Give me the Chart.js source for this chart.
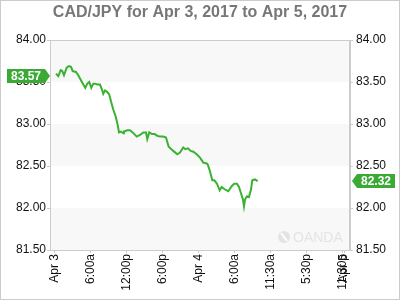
<!DOCTYPE html>
<html>
<head>
<meta charset="utf-8">
<script src="https://cdn.jsdelivr.net/npm/chart.js@4"></script>
<style>
  html, body { margin: 0; padding: 0; background: #fff; }
  #chart { display: block; }
</style>
</head>
<body>
<canvas id="chart" width="400" height="300"></canvas>
<script>
  var TITLE = 'CAD/JPY for Apr 3, 2017 to Apr 5, 2017';

  // hours since Apr 3 00:00 (as laid out on the axis)
  var hours = [0.17, 0.55, 0.95, 1.22, 1.5, 1.95, 2.33, 2.67, 2.95, 3.5, 3.88, 4.33, 4.72, 5.05, 5.38, 5.72,
    6.05, 6.38, 6.72, 7.05, 7.5, 7.83, 8.05, 8.33, 8.72, 9.05, 9.33, 9.72, 10.12, 10.45, 10.67, 11.0, 11.38,
    11.5, 12.05, 12.5, 12.95, 13.62, 14.17, 14.72, 15.17, 15.38, 15.72, 16.17, 16.62, 17.05, 17.5, 18.05,
    18.5, 18.95, 19.72, 20.38, 20.83, 21.38, 21.72, 22.17, 22.62, 23.05, 23.62, 24.17, 24.72, 25.28, 25.45,
    25.78, 26.22, 26.55, 27.0, 27.45, 27.78, 28.33, 28.88, 29.45, 29.88, 30.33, 30.67, 31.0, 31.33, 31.5,
    31.67, 32.0, 32.33, 32.67, 32.88, 33.33, 33.78];
  var rates = [83.60, 83.57, 83.64, 83.63, 83.58, 83.67, 83.69, 83.68, 83.63, 83.62, 83.58, 83.52, 83.47,
    83.43, 83.48, 83.50, 83.43, 83.48, 83.48, 83.47, 83.47, 83.41, 83.36, 83.40, 83.38, 83.35, 83.27, 83.17,
    83.09, 82.99, 82.90, 82.91, 82.89, 82.91, 82.925, 82.925, 82.90, 82.85, 82.87, 82.90, 82.90, 82.82,
    82.90, 82.88, 82.88, 82.86, 82.85, 82.85, 82.84, 82.73, 82.68, 82.64, 82.66, 82.72, 82.70, 82.71, 82.68,
    82.67, 82.64, 82.60, 82.54, 82.53, 82.52, 82.45, 82.33, 82.33, 82.29, 82.21, 82.25, 82.22, 82.20, 82.26,
    82.29, 82.29, 82.25, 82.175, 82.10, 82.02, 82.10, 82.14, 82.13, 82.22, 82.33, 82.34, 82.32];

  var tickHours = [0, 6, 12, 18, 24, 30, 36, 42, 48, 48.2];
  var tickLabels = ['Apr 3', '6:00a', '12:00p', '6:00p', 'Apr 4', '6:00a', '11:30a', '5:30p', '11:30p', 'Apr 5'];

  var openTag = 83.57;
  var closeTag = 82.32;

  var GREEN = '#39b232';
  var TAG_GREEN = '#3aaa35';
  var AXIS_GRAY = '#cccccc';
  var FONT = "'Liberation Sans', Arial, sans-serif";

  function fixWidth(w) {
    return function (scale) { scale.width = w; };
  }

  var decorPlugin = {
    id: 'decor',
    beforeDatasetsDraw: function (chart) {
      var ctx = chart.ctx, area = chart.chartArea, y = chart.scales.y;
      var ticks = y.ticks;
      ctx.save();
      ctx.fillStyle = '#f8f8f8';
      for (var i = ticks.length - 1; i > 0; i -= 2) {
        var top = y.getPixelForValue(ticks[i].value);
        var bot = y.getPixelForValue(ticks[i - 1].value);
        ctx.fillRect(area.left, top, area.right - area.left, bot - top);
      }
      // watermark
      ctx.fillStyle = '#e4e4e4';
      ctx.beginPath();
      ctx.arc(area.right - 66, area.bottom - 13, 6, 0, Math.PI * 2);
      ctx.fill();
      ctx.strokeStyle = '#ffffff';
      ctx.lineWidth = 2;
      ctx.beginPath();
      ctx.moveTo(area.right - 69, area.bottom - 17);
      ctx.lineTo(area.right - 63, area.bottom - 9);
      ctx.stroke();
      ctx.font = '14px ' + FONT;
      ctx.textAlign = 'left';
      ctx.textBaseline = 'middle';
      ctx.fillText('OANDA', area.right - 57, area.bottom - 12);
      ctx.restore();
    },
    afterDraw: function (chart) {
      var ctx = chart.ctx, area = chart.chartArea, y = chart.scales.y;
      ctx.save();
      // plot frame
      ctx.strokeStyle = AXIS_GRAY;
      ctx.lineWidth = 1;
      ctx.strokeRect(area.left + 0.5, area.top + 0.5, area.right - area.left - 1, area.bottom - area.top);
      // outer frame
      ctx.strokeRect(0.5, 0.5, chart.width - 1, chart.height - 1);

      // title
      ctx.fillStyle = '#777777';
      ctx.font = 'bold 16px ' + FONT;
      ctx.textAlign = 'center';
      ctx.textBaseline = 'middle';
      ctx.fillText(TITLE, chart.width / 2, 13);

      // value tags
      ctx.font = 'bold 12px ' + FONT;
      ctx.fillStyle = TAG_GREEN;
      var yo = Math.round(y.getPixelForValue(openTag));
      ctx.beginPath();
      ctx.moveTo(7, yo - 7);
      ctx.lineTo(area.left - 5, yo - 7);
      ctx.lineTo(area.left, yo);
      ctx.lineTo(area.left - 5, yo + 7);
      ctx.lineTo(7, yo + 7);
      ctx.closePath();
      ctx.fill();
      var yc = Math.round(y.getPixelForValue(closeTag));
      ctx.beginPath();
      ctx.moveTo(area.right + 2, yc);
      ctx.lineTo(area.right + 7, yc - 7);
      ctx.lineTo(area.right + 45, yc - 7);
      ctx.lineTo(area.right + 45, yc + 7);
      ctx.lineTo(area.right + 7, yc + 7);
      ctx.closePath();
      ctx.fill();
      ctx.fillStyle = '#ffffff';
      ctx.fillText(openTag.toFixed(2), (7 + area.left - 5) / 2, yo + 1);
      ctx.fillText(closeTag.toFixed(2), area.right + 26, yc + 1);
      ctx.restore();
    }
  };

  var points = hours.map(function (h, i) { return { x: h, y: rates[i] }; });

  var yTicks = {
    stepSize: 0.5,
    color: '#111',
    font: { family: FONT, size: 12 },
    callback: function (v) { return Number(v).toFixed(2); }
  };

  new Chart(document.getElementById('chart'), {
    type: 'line',
    data: {
      datasets: [{
        data: points,
        borderColor: GREEN,
        borderWidth: 2,
        pointRadius: 0,
        tension: 0,
        fill: false
      }]
    },
    options: {
      responsive: false,
      animation: false,
      events: [],
      layout: { padding: { top: 40, left: 0, right: 0, bottom: 0 } },
      plugins: { legend: { display: false }, tooltip: { enabled: false }, title: { display: false } },
      scales: {
        x: {
          type: 'linear',
          min: -0.83,
          max: 49.17,
          afterBuildTicks: function (scale) {
            scale.ticks = tickHours.map(function (v) { return { value: v }; });
          },
          afterFit: function (scale) { scale.height = 50; },
          grid: { drawOnChartArea: false, drawTicks: true, tickLength: 3, color: AXIS_GRAY },
          border: { display: true, color: AXIS_GRAY },
          ticks: {
            autoSkip: false,
            minRotation: 90,
            maxRotation: 90,
            padding: 1,
            color: '#111',
            font: { family: FONT, size: 12 },
            callback: function (v, i) { return tickLabels[i]; }
          }
        },
        y: {
          position: 'left',
          min: 81.5,
          max: 84,
          afterFit: fixWidth(50),
          grid: { drawOnChartArea: false, drawTicks: true, tickLength: 3, color: AXIS_GRAY },
          border: { display: true, color: AXIS_GRAY },
          ticks: Object.assign({ padding: 1 }, yTicks)
        },
        y2: {
          position: 'right',
          min: 81.5,
          max: 84,
          afterFit: fixWidth(50),
          grid: { drawOnChartArea: false, drawTicks: true, tickLength: 3, color: AXIS_GRAY },
          border: { display: true, color: AXIS_GRAY },
          ticks: Object.assign({ padding: 3 }, yTicks)
        }
      }
    },
    plugins: [decorPlugin]
  });
</script>
</body>
</html>
